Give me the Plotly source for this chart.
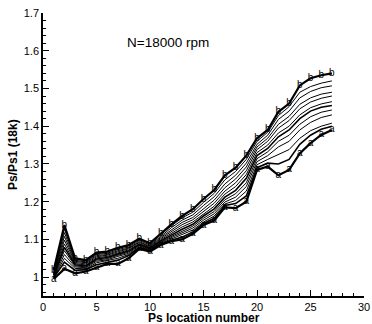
import plotly.graph_objects as go

x = list(range(1, 28))

line_b = [1.018, 1.138, 1.050, 1.045, 1.065, 1.068, 1.078, 1.085, 1.102, 1.090, 1.115, 1.140, 1.162, 1.180, 1.207, 1.231, 1.270, 1.290, 1.322, 1.368, 1.390, 1.438, 1.460, 1.508, 1.527, 1.535, 1.540]
line_1 = [1.015, 1.128, 1.048, 1.043, 1.062, 1.066, 1.076, 1.083, 1.100, 1.088, 1.112, 1.136, 1.157, 1.172, 1.198, 1.222, 1.258, 1.280, 1.312, 1.360, 1.384, 1.428, 1.452, 1.490, 1.505, 1.514, 1.520]
line_2 = [1.012, 1.118, 1.045, 1.040, 1.060, 1.063, 1.073, 1.080, 1.097, 1.085, 1.108, 1.131, 1.151, 1.165, 1.190, 1.213, 1.247, 1.270, 1.302, 1.352, 1.376, 1.418, 1.440, 1.475, 1.492, 1.502, 1.507]
line_3 = [1.010, 1.108, 1.042, 1.038, 1.057, 1.060, 1.070, 1.077, 1.094, 1.082, 1.105, 1.126, 1.145, 1.158, 1.182, 1.204, 1.237, 1.260, 1.292, 1.345, 1.368, 1.405, 1.426, 1.458, 1.475, 1.485, 1.490]
line_4 = [1.008, 1.098, 1.039, 1.035, 1.054, 1.058, 1.067, 1.075, 1.092, 1.080, 1.102, 1.121, 1.139, 1.152, 1.175, 1.196, 1.228, 1.250, 1.282, 1.338, 1.360, 1.395, 1.415, 1.446, 1.464, 1.474, 1.480]
line_5 = [1.006, 1.088, 1.036, 1.032, 1.051, 1.055, 1.064, 1.072, 1.089, 1.078, 1.099, 1.116, 1.133, 1.146, 1.168, 1.188, 1.220, 1.240, 1.272, 1.330, 1.350, 1.382, 1.400, 1.430, 1.449, 1.459, 1.465]
line_6 = [1.004, 1.079, 1.033, 1.030, 1.048, 1.052, 1.061, 1.069, 1.087, 1.076, 1.096, 1.112, 1.127, 1.140, 1.162, 1.181, 1.212, 1.230, 1.262, 1.322, 1.341, 1.372, 1.390, 1.420, 1.440, 1.450, 1.455]
line_7 = [1.002, 1.070, 1.030, 1.027, 1.045, 1.049, 1.058, 1.066, 1.085, 1.074, 1.094, 1.108, 1.122, 1.135, 1.156, 1.174, 1.205, 1.221, 1.250, 1.314, 1.332, 1.360, 1.376, 1.405, 1.425, 1.437, 1.443]
line_8 = [1.000, 1.060, 1.027, 1.025, 1.042, 1.046, 1.055, 1.063, 1.083, 1.072, 1.092, 1.104, 1.117, 1.130, 1.151, 1.168, 1.199, 1.212, 1.240, 1.306, 1.322, 1.345, 1.360, 1.390, 1.410, 1.423, 1.430]
line_9 = [0.999, 1.050, 1.023, 1.022, 1.038, 1.043, 1.050, 1.060, 1.080, 1.071, 1.090, 1.101, 1.112, 1.125, 1.146, 1.162, 1.194, 1.203, 1.228, 1.298, 1.312, 1.325, 1.338, 1.368, 1.388, 1.400, 1.408]
line_10 = [0.998, 1.040, 1.018, 1.020, 1.033, 1.040, 1.045, 1.057, 1.078, 1.070, 1.088, 1.098, 1.106, 1.120, 1.142, 1.156, 1.190, 1.195, 1.215, 1.290, 1.302, 1.300, 1.312, 1.352, 1.376, 1.392, 1.400]
line_a = [0.995, 1.022, 1.010, 1.015, 1.025, 1.035, 1.035, 1.050, 1.075, 1.068, 1.085, 1.095, 1.100, 1.115, 1.138, 1.150, 1.185, 1.183, 1.200, 1.284, 1.293, 1.270, 1.284, 1.328, 1.355, 1.377, 1.390]

middle_lines = [line_1, line_2, line_3, line_4, line_5, line_6, line_7, line_8, line_9, line_10]
middle_widths = [1, 1, 1, 1, 1, 1.6, 1, 1, 1, 1.6]

title_text = "N=18000 rpm"
x_title = "Ps location number"
y_title = "Ps/Ps1 (18k)"

fig = go.Figure()
for ys, w in zip(middle_lines, middle_widths):
    fig.add_trace(go.Scatter(x=x, y=ys, mode="lines", line=dict(color="black", width=w), showlegend=False))

for ys, letter in [(line_a, "a"), (line_b, "b")]:
    fig.add_trace(go.Scatter(x=x, y=ys, mode="lines+text", text=[letter] * len(x),
                             textposition="middle center",
                             textfont=dict(family="Arial, Liberation Sans", size=10, color="black"),
                             line=dict(color="black", width=2.2), showlegend=False))

fig.add_annotation(x=11.7, y=1.623, xref="x", yref="y", text=title_text, showarrow=False,
                   font=dict(family="Arial, Liberation Sans", size=13.5, color="black"))
fig.add_annotation(x=0.5, y=-0.078, xref="paper", yref="paper", text="<b>" + x_title + "</b>",
                   showarrow=False, yanchor="middle",
                   font=dict(family="Arial, Liberation Sans", size=12, color="black"))
fig.add_annotation(x=-0.095, y=0.5, xref="paper", yref="paper", text="<b>" + y_title + "</b>",
                   showarrow=False, textangle=-90, xanchor="center",
                   font=dict(family="Arial, Liberation Sans", size=12, color="black"))

axis_font = dict(family="Arial, Liberation Sans", size=11, color="black")
fig.update_xaxes(range=[0, 30], tick0=0, dtick=5, ticks="inside", ticklen=6, tickwidth=1.2,
                 tickcolor="black", showline=True, linecolor="black", linewidth=1.5,
                 showgrid=False, zeroline=False, tickfont=axis_font, automargin=False,
                 minor=dict(dtick=1, tick0=0, ticks="inside", ticklen=3, tickcolor="black", tickwidth=1, showgrid=False))
fig.update_yaxes(range=[0.95, 1.7], tick0=1.0, dtick=0.1, ticks="inside", ticklen=6, tickwidth=1.2,
                 tickcolor="black", showline=True, linecolor="black", linewidth=1.5,
                 showgrid=False, zeroline=False, tickfont=axis_font, automargin=False,
                 minor=dict(dtick=0.02, tick0=1.0, ticks="inside", ticklen=3, tickcolor="black", tickwidth=1, showgrid=False))

fig.update_layout(width=372, height=324, margin=dict(l=43, r=8, t=13, b=28),
                  plot_bgcolor="white", paper_bgcolor="white", showlegend=False)

fig.write_html("out.html", config={"displayModeBar": False},
               post_script="document.body.style.margin='0';document.body.style.overflow='hidden';")
